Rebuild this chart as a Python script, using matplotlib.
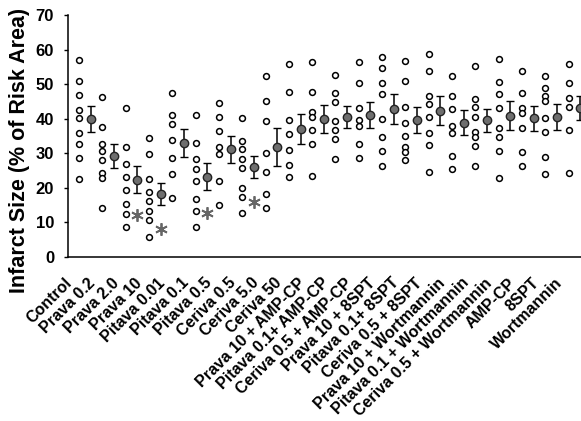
import numpy as np
import matplotlib.pyplot as plt
from matplotlib.transforms import ScaledTranslation

plt.rcParams['font.family'] = ['Liberation Sans', 'DejaVu Sans']

# grupos
groups = ["Control", "Prava 0.2", "Prava 2.0", "Prava 10", "Pitava 0.01",
          "Pitava 0.1", "Pitava 0.5", "Ceriva 0.5", "Ceriva 5.0", "Ceriva 50",
          "Prava 10 + AMP-CP", "Pitava 0.1+ AMP-CP", "Ceriva 0.5 + AMP-CP",
          "Prava 10 + 8SPT", "Pitava 0.1+ 8SPT", "Ceriva 0.5 + 8SPT",
          "Prava 10 + Wortmannin", "Pitava 0.1 + Wortmannin",
          "Ceriva 0.5 + Wortmannin", "AMP-CP", "8SPT", "Wortmannin"]

# valores individuales (% del area de riesgo)
individual = [
    [57.0, 50.9, 46.9, 42.5, 40.3, 36.0, 32.6, 28.7, 22.7],
    [46.4, 37.7, 32.7, 30.8, 28.1, 24.4, 22.8, 14.1],
    [43.2, 31.9, 26.9, 23.0, 19.4, 15.3, 12.4, 8.6],
    [34.4, 29.7, 22.6, 18.7, 16.1, 13.2, 10.7, 5.7],
    [47.3, 41.1, 38.5, 33.8, 28.7, 23.9, 17.2],
    [41.1, 33.1, 28.3, 25.5, 22.0, 16.8, 13.3, 8.7],
    [44.6, 40.6, 36.4, 31.7, 29.7, 22.0, 15.0],
    [40.3, 33.6, 31.1, 28.4, 25.7, 20.1, 17.4, 12.7],
    [52.4, 45.1, 39.4, 30.0, 24.6, 18.2, 14.1],
    [55.7, 47.8, 39.6, 35.6, 31.0, 26.6, 23.1],
    [56.4, 47.8, 42.0, 40.4, 36.7, 32.7, 23.5],
    [52.6, 47.5, 44.7, 39.4, 36.7, 34.1, 28.3],
    [56.3, 50.2, 43.0, 39.6, 37.9, 32.7, 28.6],
    [57.9, 54.6, 50.4, 47.1, 39.8, 34.8, 30.7, 26.4],
    [56.8, 50.9, 43.5, 38.7, 35.1, 31.9, 30.5, 28.0],
    [58.6, 53.9, 46.6, 44.3, 40.6, 35.8, 32.4, 24.5],
    [52.4, 46.6, 42.7, 38.0, 35.8, 29.2, 25.5],
    [55.3, 45.6, 43.3, 40.6, 36.3, 34.8, 32.2, 26.3],
    [57.2, 50.7, 47.1, 43.0, 37.2, 34.6, 30.7, 22.8],
    [53.9, 47.5, 43.0, 41.6, 37.4, 30.5, 26.3],
    [52.4, 49.0, 46.6, 45.1, 40.3, 36.3, 29.0, 23.9],
    [55.7, 50.2, 45.9, 43.5, 36.7, 24.2],
]

# media y error estandar
means = [40.0, 29.3, 22.3, 18.2, 32.9, 23.2, 31.2, 26.0, 31.9, 37.0, 40.0,
         40.6, 41.1, 42.8, 39.6, 42.3, 38.9, 39.6, 40.8, 40.1, 40.6, 43.0]
sems = [3.7, 3.5, 3.9, 3.2, 4.0, 3.9, 3.9, 3.2, 5.5, 4.4, 4.0,
        3.2, 3.7, 4.3, 3.7, 4.2, 3.6, 3.3, 4.2, 3.7, 3.8, 3.5]

# asteriscos (p < 0.05)
star_groups = [2, 3, 5, 7]
star_y = [12.2, 8.2, 12.8, 15.9]

fig = plt.figure(figsize=(5.81, 4.21), dpi=100)
ax = fig.add_axes([68/581, 164/421, 524/581, 242/421])

x = np.arange(len(groups))
for i, vals in enumerate(individual):
    ax.plot([x[i]] * len(vals), vals, 'o', ms=4.2, mfc='white', mec='black', mew=1.1)

ax.errorbar(x + 0.5, means, yerr=sems, fmt='o', ms=6, mfc='#6e6e6e', mec='#222222',
            mew=1, ecolor='black', elinewidth=1.1, capsize=2.6, capthick=1.1)

ax.plot(np.array(star_groups) + 0.5, star_y, linestyle='none', marker=(6, 2, 0),
        ms=9, mec='#666666', mew=1.3)

ax.set_xlim(-0.47, 22.0)
ax.set_ylim(0, 70)
ax.set_yticks(np.arange(0, 71, 10))
ax.spines['top'].set_visible(False)
ax.spines['right'].set_visible(False)
ax.spines['left'].set_linewidth(1.1)
ax.spines['bottom'].set_linewidth(1.1)
ax.tick_params(axis='y', length=3, width=1, pad=7, labelsize=12)
for lab in ax.get_yticklabels():
    lab.set_fontweight('bold')

ax.set_xticks(x + 0.25)
ax.set_xticklabels(groups, rotation=45, ha='right', va='center',
                   rotation_mode='anchor', fontsize=11.5, fontweight='bold')
ax.tick_params(axis='x', length=0, pad=17)
shift = ScaledTranslation(-15/100, 0, fig.dpi_scale_trans)
for lab in ax.get_xticklabels():
    lab.set_transform(lab.get_transform() + shift)

fig.text(20/581, 1 - 150/421, 'Infarct Size (% of Risk Area)', rotation=90,
         ha='center', va='center', fontsize=15.5, fontweight='bold')

fig.savefig('out.png', dpi=100)
